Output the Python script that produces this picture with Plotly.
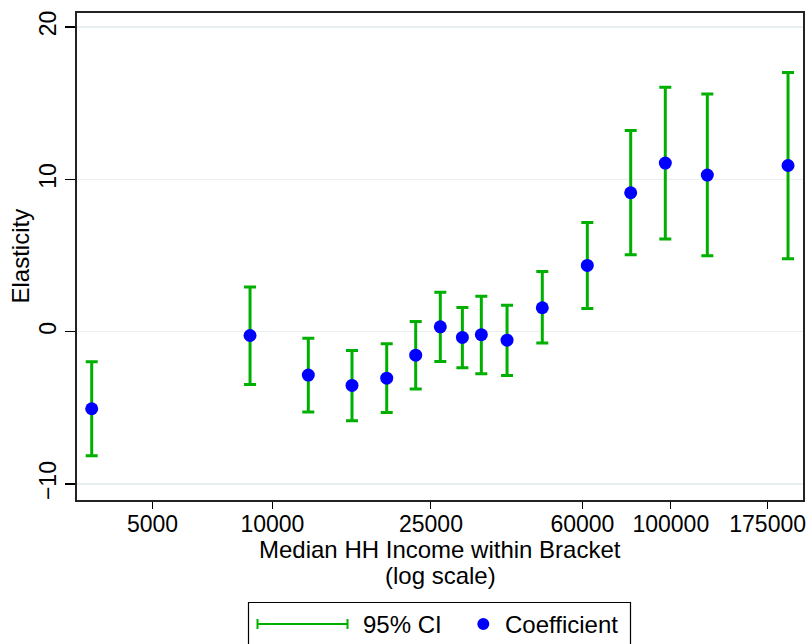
import plotly.graph_objects as go

# Data
income = [3519, 8787, 12306, 15840, 19360, 22890, 26390, 29980, 33450, 38810,
          47580, 61720, 79310, 96870, 123500, 196900]
coef = [-5.06, -0.25, -2.85, -3.53, -3.05, -1.54, 0.32, -0.38, -0.20, -0.56,
        1.57, 4.35, 9.12, 11.07, 10.28, 10.91]
ci_low = [-8.14, -3.46, -5.28, -5.84, -5.30, -3.77, -1.95, -2.37, -2.76, -2.87,
          -0.75, 1.52, 5.05, 6.08, 4.98, 4.79]
ci_high = [-1.97, 2.94, -0.43, -1.23, -0.79, 0.67, 2.59, 1.59, 2.33, 1.74,
           3.95, 7.16, 13.2, 16.04, 15.6, 17.02]
x_ticks = [5000, 10000, 25000, 60000, 100000, 175000]
y_ticks = [-10, 0, 10, 20]
y_tick_labels = ["\u221210", "0", "10", "20"]

GREEN = "#00b000"
BLUE = "#0000ff"
FONT = "Liberation Sans, Arial, sans-serif"

W, H = 809, 644
L, R, T, B = 77, 803, 13, 500


def px_x(px):
    return (px - L) / (R - L)


def px_y(py):
    return (B - py) / (B - T)


fig = go.Figure()
fig.add_trace(go.Scatter(
    x=income, y=coef, mode="markers",
    marker=dict(color=BLUE, size=13, line=dict(width=0)),
    error_y=dict(type="data", symmetric=False,
                 array=[h - c for h, c in zip(ci_high, coef)],
                 arrayminus=[c - l for c, l in zip(coef, ci_low)],
                 color=GREEN, thickness=3, width=6),
    showlegend=False, hoverinfo="skip",
))

fig.update_layout(
    width=W, height=H,
    margin=dict(l=L, r=W - R, t=T, b=H - B, autoexpand=False),
    paper_bgcolor="white", plot_bgcolor="white",
    font=dict(family=FONT, size=23, color="black"),
    showlegend=False,
)
fig.update_xaxes(
    type="log", range=[3.5095, 5.3318],
    tickvals=x_ticks, ticktext=[str(v) for v in x_ticks],
    ticks="outside", ticklen=7, tickwidth=1, tickcolor="black",
    ticklabelstandoff=-5,
    showgrid=False, zeroline=False, automargin=False,
    showline=True, linecolor="#222222", linewidth=2, mirror=True,
    tickfont=dict(size=23, family=FONT),
)
fig.update_yaxes(
    range=[-11.05, 20.92],
    tickvals=y_ticks, ticktext=y_tick_labels, tickangle=-90,
    ticks="outside", ticklen=10, tickwidth=1.5, tickcolor="black",
    showgrid=True, gridcolor="#e9eff1", gridwidth=1.5, zeroline=False,
    showline=True, linecolor="#222222", linewidth=2, mirror=True,
    automargin=False,
    tickfont=dict(size=23, family=FONT),
)

# Axis titles
fig.add_annotation(text="Median HH Income within Bracket", xref="paper", yref="paper",
                   x=0.5, y=px_y(549), showarrow=False, xanchor="center", yanchor="middle",
                   font=dict(size=24, family=FONT))
fig.add_annotation(text="(log scale)", xref="paper", yref="paper",
                   x=0.5, y=px_y(575), showarrow=False, xanchor="center", yanchor="middle",
                   font=dict(size=24, family=FONT))
fig.add_annotation(text="Elasticity", xref="paper", yref="paper",
                   x=px_x(20), y=0.5, showarrow=False, textangle=-90,
                   xanchor="center", yanchor="middle",
                   font=dict(size=24, family=FONT))

# Legend box (drawn manually to match the reference style)
fig.add_shape(type="rect", xref="paper", yref="paper",
              x0=px_x(248.5), x1=px_x(630.5), y0=px_y(602.5), y1=px_y(680),
              line=dict(color="black", width=1.2), fillcolor="white")
ly = px_y(624)
fig.add_shape(type="line", xref="paper", yref="paper",
              x0=px_x(257), x1=px_x(348), y0=ly, y1=ly,
              line=dict(color=GREEN, width=2))
for cx in (257.5, 347.5):
    fig.add_shape(type="line", xref="paper", yref="paper",
                  x0=px_x(cx), x1=px_x(cx), y0=px_y(619), y1=px_y(629),
                  line=dict(color=GREEN, width=2))
fig.add_annotation(text="95% CI", xref="paper", yref="paper",
                   x=px_x(361), y=ly, showarrow=False, xanchor="left", yanchor="middle",
                   font=dict(size=24, family=FONT))
fig.add_shape(type="circle", xref="paper", yref="paper",
              x0=px_x(477.3), x1=px_x(489.3), y0=px_y(618), y1=px_y(630),
              line=dict(width=0), fillcolor=BLUE)
fig.add_annotation(text="Coefficient", xref="paper", yref="paper",
                   x=px_x(503), y=ly, showarrow=False, xanchor="left", yanchor="middle",
                   font=dict(size=24, family=FONT))

fig.write_html("out.html",
               config={"displayModeBar": False, "staticPlot": True},
               post_script="document.body.style.margin='0';document.body.style.overflow='hidden';")
